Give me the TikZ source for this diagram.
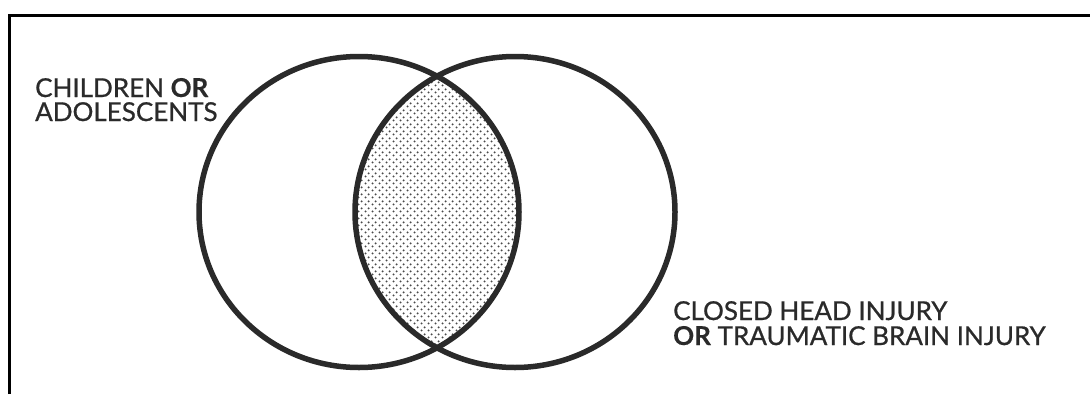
\documentclass[tikz,border=0pt]{standalone}
\usepackage{fontspec}
\setmainfont{Lato}[FakeBold=0.8, BoldFont={Lato Bold}, BoldFeatures={FakeBold=0.3}]
\usetikzlibrary{patterns.meta}
\definecolor{ink}{HTML}{2A2A2A}
\definecolor{txt}{HTML}{2A2A2A}
\definecolor{dotc}{HTML}{4A4A4A}
\tikzdeclarepattern{
  name=venndots,
  type=colored,
  bounding box={(0pt,0pt) and (7pt,7pt)},
  tile size={(7pt,7pt)},
  code={
    \fill[dotc] (1.75pt,1.75pt) circle (1.2pt);
    \fill[dotc] (5.25pt,5.25pt) circle (1.2pt);
  }
}
\tikzset{
  frameline/.style={line width=3pt, black},
  setline/.style={line width=5.5pt, ink},
  lbl/.style={anchor=base west, inner sep=0pt, text=txt, font=\fontsize{26}{28}\selectfont},
}
\begin{document}
\begin{tikzpicture}[x=1pt,y=-1pt]
\useasboundingbox (0,0) rectangle (1090,394);
% frame (top and left edges)
\draw[frameline] (9.5,394) -- (9.5,15.5) -- (1090,15.5);
% intersection shading
\begin{scope}
  \clip (359,212) ellipse [x radius=160, y radius=155.5];
  \fill[white] (515,212) ellipse [x radius=160, y radius=155.5];
  \fill[pattern=venndots] (515,212) ellipse [x radius=160, y radius=155.5];
\end{scope}
% sets
\draw[setline] (359,212) ellipse [x radius=160, y radius=155.5];
\draw[setline] (515,212) ellipse [x radius=160, y radius=155.5];
% labels
\node[lbl] (a1) at (35,97) {CHILDREN \textbf{OR}};
\node[lbl] (a2) at (35,121) {ADOLESCENTS};
\node[lbl] (b1) at (673,320) {CLOSED HEAD INJURY};
\node[lbl] (b2) at (673,345) {\textbf{OR} TRAUMATIC BRAIN INJURY};
\end{tikzpicture}
\end{document}
